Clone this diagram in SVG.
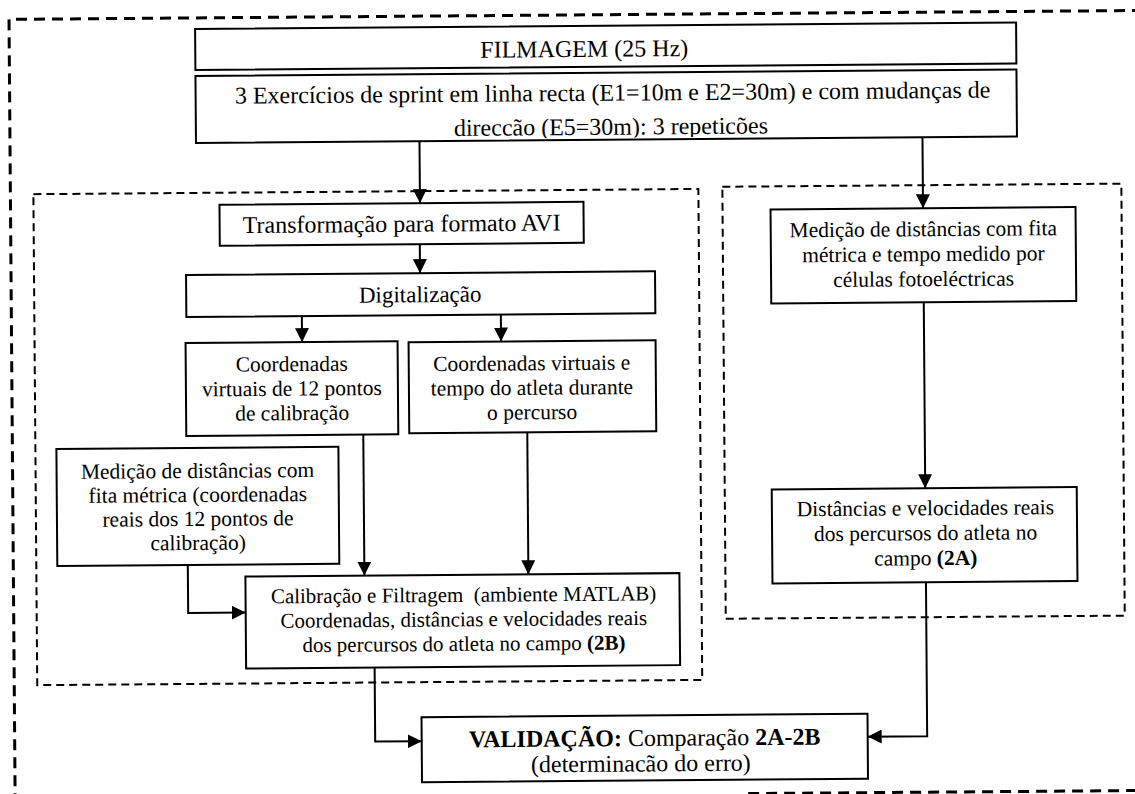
<svg xmlns="http://www.w3.org/2000/svg" width="1135" height="794" viewBox="0 0 1135 794">
<style>
.box{fill:#fff;stroke:#000;stroke-width:2}
.t{font-family:"Liberation Serif","Times New Roman",serif;font-size:21.5px;fill:#000;text-anchor:middle}
.L{font-size:24px}
.s{font-size:21px}
.b{font-weight:bold}
.dash{fill:none;stroke:#000;stroke-width:3;stroke-dasharray:11 7}
.dash2{fill:none;stroke:#000;stroke-width:2;stroke-dasharray:8 5}
.c{fill:none;stroke:#000;stroke-width:2}
</style>
<defs>
<marker id="ah" markerUnits="userSpaceOnUse" markerWidth="14" markerHeight="14" viewBox="0 0 14 14" refX="14" refY="7" orient="auto">
<path d="M0,0 L14,7 L0,14 Z" fill="#000"/>
</marker>
<clipPath id="clip2"><rect x="198" y="73" width="821" height="65"/></clipPath>
</defs>
<g transform="rotate(-0.45 567 397)">
<g id="frames">
<path class="dash" d="M12,800 V15 H1140"/>
<path class="dash" d="M745,795 H1140"/>
<rect class="dash2" x="35" y="190" width="665" height="491"/>
<rect class="dash2" x="724" y="188" width="399" height="432"/>
</g>
<g id="connectors">
<path class="c" d="M421.5,140 V202" marker-end="url(#ah)"/>
<path class="c" d="M924.5,140 V211" marker-end="url(#ah)"/>
<path class="c" d="M421,243 V272" marker-end="url(#ah)"/>
<path class="c" d="M302.5,314 V340" marker-end="url(#ah)"/>
<path class="c" d="M501.5,314 V341" marker-end="url(#ah)"/>
<path class="c" d="M363,433 V574" marker-end="url(#ah)"/>
<path class="c" d="M527,432 V574" marker-end="url(#ah)"/>
<path class="c" d="M186.5,562 V610 H244" marker-end="url(#ah)"/>
<path class="c" d="M924.5,305 V491" marker-end="url(#ah)"/>
<path class="c" d="M372.5,666 V740 H419" marker-end="url(#ah)"/>
<path class="c" d="M924.5,585 V739 H865" marker-end="url(#ah)"/>
</g>
<g id="filmagem">
<rect class="box" x="198" y="26" width="821" height="41"/>
<text class="t L" x="587" y="57">FILMAGEM (25 Hz)</text>
</g>
<g id="exercicios">
<rect class="box" x="198" y="73" width="821" height="67"/>
<g clip-path="url(#clip2)">
<text class="t L" x="615" y="101">3 Exercícios de sprint em linha recta (E1=10m e E2=30m) e com mudanças de</text>
<text class="t L" x="613" y="135">direccão (E5=30m): 3 repeticões</text>
</g>
</g>
<g id="avi">
<rect class="box" x="221" y="202" width="364" height="41"/>
<text class="t L" x="403" y="230.5">Transformação para formato AVI</text>
</g>
<g id="digitalizacao">
<rect class="box" x="187" y="272" width="469" height="42"/>
<text class="t" style="font-size:23px" x="421" y="301">Digitalização</text>
</g>
<g id="coord-calib">
<rect class="box" x="186" y="340" width="212" height="93"/>
<text class="t" x="292" y="369">Coordenadas</text>
<text class="t" x="292" y="393.5">virtuais de 12 pontos</text>
<text class="t" x="292" y="418">de calibração</text>
</g>
<g id="coord-atleta">
<rect class="box" x="409" y="341" width="247" height="91"/>
<text class="t" x="532" y="370">Coordenadas virtuais e</text>
<text class="t" x="532" y="394.5">tempo do atleta durante</text>
<text class="t" x="532" y="419">o percurso</text>
</g>
<g id="medicao-calib">
<rect class="box" x="56" y="445" width="282" height="117"/>
<text class="t" x="197" y="475">Medição de distâncias com</text>
<text class="t" x="197" y="499">fita métrica (coordenadas</text>
<text class="t" x="197" y="523">reais dos 12 pontos de</text>
<text class="t" x="197" y="547">calibração)</text>
</g>
<g id="calibracao">
<rect class="box" x="244" y="574" width="434" height="92"/>
<text class="t s" x="462" y="601" xml:space="preserve">Calibração e Filtragem  (ambiente MATLAB)</text>
<text class="t s" x="462" y="625.5">Coordenadas, distâncias e velocidades reais</text>
<text class="t s" x="462" y="650">dos percursos do atleta no campo <tspan class="b">(2B)</tspan></text>
</g>
<g id="medicao-campo">
<rect class="box" x="772" y="211" width="305" height="94"/>
<text class="t" x="924.5" y="239">Medição de distâncias com fita</text>
<text class="t" x="924.5" y="264">métrica e tempo medido por</text>
<text class="t" x="924.5" y="289">células fotoeléctricas</text>
</g>
<g id="distancias">
<rect class="box" x="771" y="491" width="305" height="94"/>
<text class="t" x="924.5" y="518">Distâncias e velocidades reais</text>
<text class="t" x="924.5" y="543">dos percursos do atleta no</text>
<text class="t" x="924.5" y="568">campo <tspan class="b">(2A)</tspan></text>
</g>
<g id="validacao">
<rect class="box" x="419" y="716" width="446" height="65"/>
<text class="t L" x="642" y="746.5"><tspan class="b">VALIDAÇÃO:</tspan> Comparação <tspan class="b">2A-2B</tspan></text>
<text class="t L" x="638" y="772">(determinacão do erro)</text>
</g>
</g>
</svg>
